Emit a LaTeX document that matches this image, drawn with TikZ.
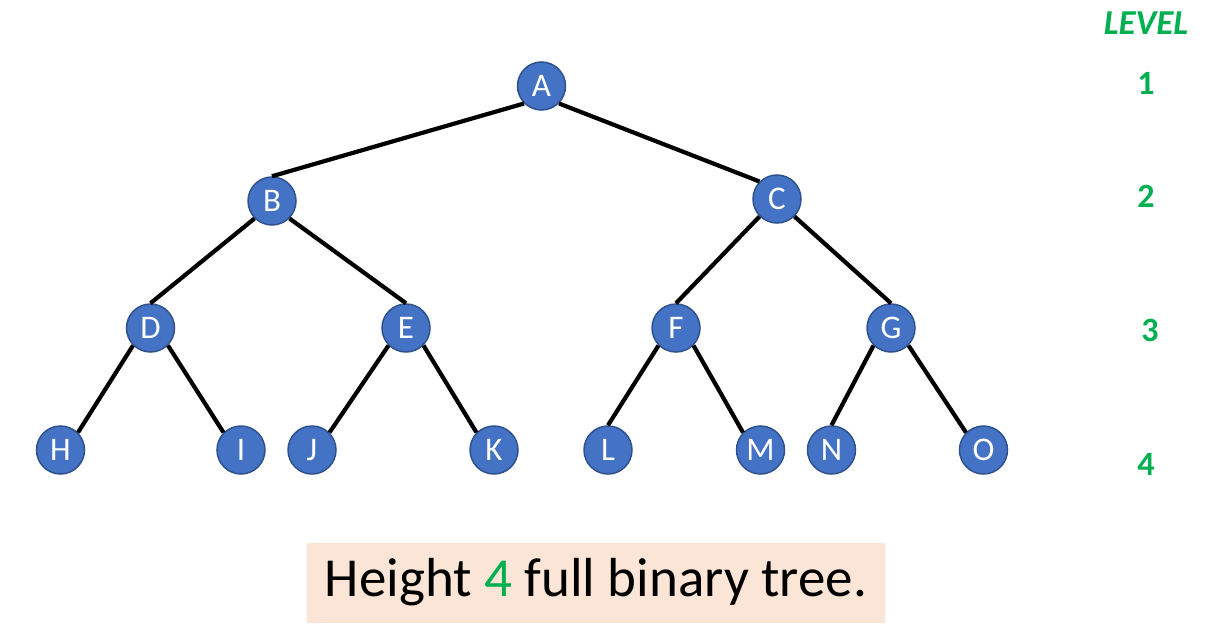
\documentclass[tikz,border=0pt]{standalone}
\usepackage{fontspec}
\setmainfont{Carlito}
\definecolor{nodefill}{HTML}{4472C4}
\definecolor{nodeline}{HTML}{2F528F}
\definecolor{lvl}{HTML}{00B050}
\definecolor{boxfill}{HTML}{FBE5D6}
\begin{document}
\begin{tikzpicture}[x=1pt,y=-1pt,
  tnode/.style={circle,draw=nodeline,line width=1.5pt,fill=nodefill,minimum size=48pt,inner sep=0pt,text=white,font=\fontsize{33}{33}\selectfont},
  edge/.style={line width=4.2pt,black},
  lvltext/.style={text=lvl,font=\fontsize{34}{34}\selectfont\bfseries}]
\useasboundingbox (0,0) rectangle (1225,631);
% box
\node[fill=boxfill,minimum width=578pt,minimum height=80pt,inner sep=0pt,font=\fontsize{55}{55}\selectfont] (cap) at (596,582.5) {Height {\color{lvl}4} full binary tree.};
% nodes
\node[tnode] (A) at (541.5,86) {A};
\node[tnode] (B) at (272,201) {B};
\node[tnode] (C) at (777,199) {C};
\node[tnode] (D) at (150.5,328) {D};
\node[tnode] (E) at (406,328) {E};
\node[tnode] (F) at (676,328) {F};
\node[tnode] (G) at (891,328) {G};
\node[tnode] (H) at (60.5,450) {H};
\node[tnode] (I) at (241,450) {I};
\node[tnode] (J) at (312,450) {J};
\node[tnode] (K) at (494,450) {K};
\node[tnode] (L) at (608,450) {L};
\node[tnode] (M) at (760.5,450) {M};
\node[tnode] (N) at (831.5,450) {N};
\node[tnode] (O) at (983.5,450) {O};
% edges
\draw[edge] (A.south west) -- (B.north);
\draw[edge] (A.south east) -- (C.north west);
\draw[edge] (B.south west) -- (D.north);
\draw[edge] (B.south east) -- (E.north);
\draw[edge] (C.south west) -- (F.north);
\draw[edge] (C.south east) -- (G.north);
\draw[edge] (D.south west) -- (H.north east);
\draw[edge] (D.south east) -- (I.north west);
\draw[edge] (E.south west) -- (J.north east);
\draw[edge] (E.south east) -- (K.north west);
\draw[edge] (F.south west) -- (L.north);
\draw[edge] (F.south east) -- (M.north west);
\draw[edge] (G.south west) -- (N.north);
\draw[edge] (G.south east) -- (O.north west);
% level labels
\node[lvltext,font=\fontsize{35}{35}\selectfont\bfseries\itshape] (lv) at (1146,23) {LEVEL};
\node[lvltext] (l1) at (1146,83) {1};
\node[lvltext] (l2) at (1146,196) {2};
\node[lvltext] (l3) at (1150,330) {3};
\node[lvltext] (l4) at (1146,464) {4};
\end{tikzpicture}
\end{document}
